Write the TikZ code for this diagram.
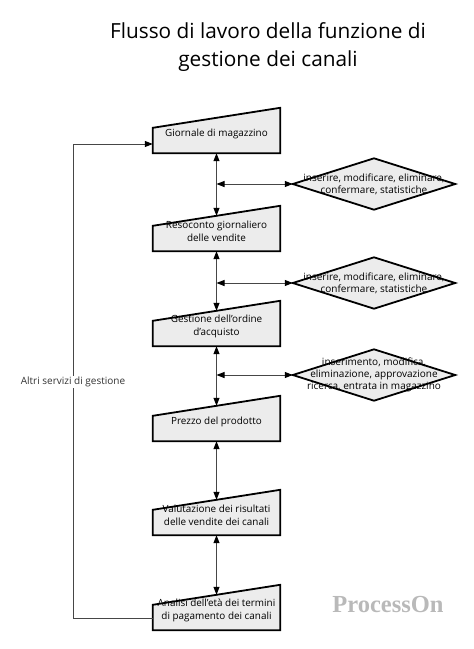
\documentclass[tikz,border=0pt]{standalone}
\usepackage{fontspec}
\setmainfont{Open Sans}
\newfontfamily\wmfont{Liberation Serif}
\usetikzlibrary{arrows.meta,calc,backgrounds}
\begin{document}
\begin{tikzpicture}[x=1pt,y=-1pt,
  boxnode/.style={minimum width=127pt, minimum height=39pt, inner sep=0pt, align=center, font=\fontsize{9.9}{13.5}\selectfont},
  dianode/.style={minimum width=162pt, minimum height=51pt, inner sep=0pt, align=center, font=\fontsize{10}{12}\selectfont},
  shapeline/.style={draw=black, line width=1.8pt, fill=gray!15, line join=miter},
  conn/.style={draw=gray!55!black, line width=1pt},
  dbl/.style={conn, {Triangle[black,length=8pt,width=6pt]}-{Triangle[black,length=8pt,width=6pt]}},
  sgl/.style={conn, -{Triangle[black,length=8pt,width=6pt]}},
  titletext/.style={font=\fontsize{20.8}{28}\selectfont, align=center},
  sidelabel/.style={fill=white, inner sep=1pt, font=\fontsize{10}{12}\selectfont, text=gray!40!black},
  watermark/.style={font=\wmfont\bfseries\fontsize{24.5}{28}\selectfont, text=gray!55}
]
\useasboundingbox (0,0) rectangle (474,649);

\node[titletext] (title) at (268,47) {Flusso di lavoro della funzione di\\gestione dei canali};

\node[boxnode] (b1) at (216.5,133.5) {Giornale di magazzino};
\node[boxnode] (b2) at (216.5,231.5) {Resoconto giornaliero\\delle vendite};
\node[boxnode] (b3) at (216.5,326.5) {Gestione dell'ordine\\d'acquisto};
\node[boxnode] (b4) at (216.5,421.5) {Prezzo del prodotto};
\node[boxnode] (b5) at (216.5,515.5) {Valutazione dei risultati\\delle vendite dei canali};
\node[boxnode] (b6) at (216.5,610.5) {Analisi dell'età dei termini\\di pagamento dei canali};

\node[dianode] (d1) at (374,184) {inserire, modificare, eliminare,\\confermare, statistiche};
\node[dianode] (d2) at (374,283) {inserire, modificare, eliminare,\\confermare, statistiche};
\node[dianode] (d3) at (374,375) {inserimento, modifica,\\eliminazione, approvazione\\ricerca, entrata in magazzino};

\begin{scope}[on background layer]
  \foreach \n in {b1,b2,b3,b4,b5,b6}
    \draw[shapeline] (\n.south west) -- ([yshift=-14pt]\n.north west) -- ([yshift=6pt]\n.north east) -- (\n.south east) -- cycle;
  \foreach \n in {d1,d2,d3}
    \draw[shapeline] (\n.west) -- (\n.north) -- (\n.east) -- (\n.south) -- cycle;
\end{scope}

\draw[dbl] (b1.south) -- ([yshift=-4pt]b2.north);
\draw[dbl] (b2.south) -- ([yshift=-4pt]b3.north);
\draw[dbl] (b3.south) -- ([yshift=-4pt]b4.north);
\draw[dbl] (b4.south) -- ([yshift=-4pt]b5.north);
\draw[dbl] (b5.south) -- ([yshift=-4pt]b6.north);

\coordinate (h1) at (216.5,184);
\coordinate (h2) at (216.5,283);
\coordinate (h3) at (216.5,375);
\draw[dbl] (h1) -- (d1.west);
\draw[dbl] (h2) -- (d2.west);
\draw[dbl] (h3) -- (d3.west);

\coordinate (fb1) at (73,144);
\coordinate (fb2) at (73,618);
\draw[sgl] (b6.west |- fb2) -- (fb2) -- (fb1) -- (b1.west |- fb1);
\node[sidelabel] (lab) at (73,382) {Altri servizi di gestione};

\node[watermark] (wm) at (388,604) {ProcessOn};
\end{tikzpicture}
\end{document}
